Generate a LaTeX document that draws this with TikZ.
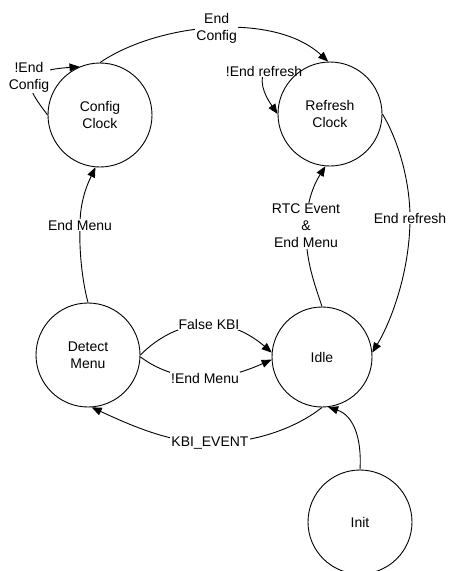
\documentclass[tikz,border=0pt]{standalone}
\usepackage{fontspec}
\setmainfont{Liberation Sans}
\usetikzlibrary{arrows.meta}
\pgfdeclarelayer{fg}
\pgfsetlayers{main,fg}
\begin{document}
\begin{tikzpicture}[x=1pt,y=-1pt,
  state/.style={draw,circle,minimum size=104pt,inner sep=0pt,align=center,line width=0.9pt,
    font=\fontsize{14}{17}\selectfont},
  lbl/.style={fill=white,inner sep=1pt,align=center,font=\fontsize{14}{17}\selectfont},
  arr/.style={line width=0.9pt,-{Triangle[length=10pt,width=8pt]}},
  ln/.style={line width=0.9pt}]
\useasboundingbox (0,0) rectangle (449,571);
\begin{pgfonlayer}{fg}
\node[state] (cfg) at (100,115) {Config\\Clock};
\node[state] (ref) at (330,114) {Refresh\\Clock};
\node[state] (det) at (88,355) {Detect\\Menu};
\node[state,minimum size=100pt] (idle) at (322,357) {Idle};
\node[state] (init) at (360,522) {Init};
\end{pgfonlayer}
% End Config
\draw[arr] (cfg.90) .. controls (160,22) and (275,12) .. node[lbl,pos=0.5] {End\\Config} (ref.92);
% !End Config loop
\draw[arr] (cfg.180) .. controls (38,102) and (28,90) .. (29,77) node[lbl] {!End\\Config}
  .. controls (45,69) and (62,68) .. (cfg.113);
% !End refresh loop
\draw[arr] (ref.121) .. controls (290,68) and (275,70) .. (264,71) node[lbl] {!End refresh}
  .. controls (258,85) and (268,100) .. (ref.180);
% End refresh
\draw[arr] (ref.0) .. controls (398,140) and (410,180) .. (410,218) node[lbl] {End refresh}
  .. controls (410,270) and (392,320) .. (idle.5);
% RTC Event & End Menu
\draw[arr] (idle.90) .. controls (315,285) and (305,260) .. (306,226) node[lbl] {RTC Event\\\&\\End Menu}
  .. controls (307,195) and (318,178) .. (ref.265);
% End Menu
\draw[arr] (det.90) .. controls (82,280) and (79,250) .. (80,225) node[lbl] {End Menu}
  .. controls (80,200) and (88,183) .. (cfg.265);
% False KBI
\draw[arr] (det.0) .. controls (160,335) and (185,324) .. (209,324) node[lbl] {False KBI}
  .. controls (235,324) and (255,338) .. (idle.175);
% !End Menu
\draw[arr] (det.-2) .. controls (160,372) and (185,378) .. (205,378) node[lbl] {!End Menu}
  .. controls (230,378) and (255,367) .. (idle.183);
% KBI_EVENT
\draw[arr] (idle.270) .. controls (300,425) and (260,443) .. (210,443) node[lbl] {KBI\_EVENT}
  .. controls (170,443) and (130,425) .. (det.-86);
% Init -> Idle
\draw[arr] (init.90) .. controls (362,435) and (352,415) .. (idle.-83);
\end{tikzpicture}
\end{document}
